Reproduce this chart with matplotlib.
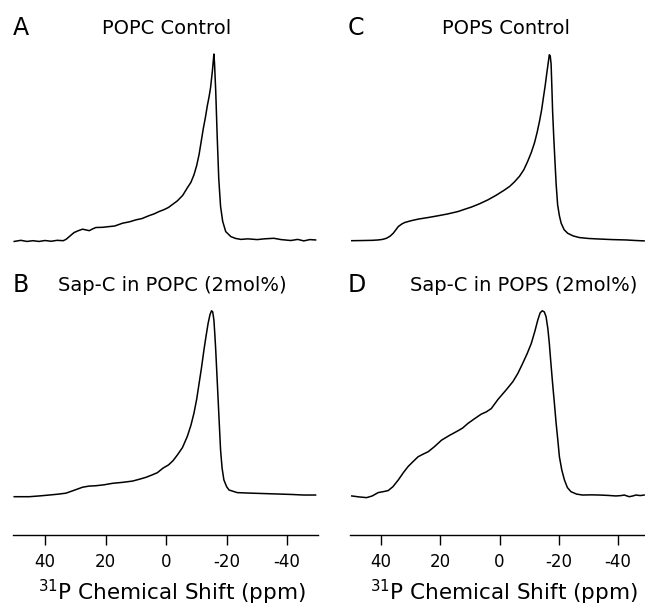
import matplotlib as mpl
mpl.use('Agg')
import matplotlib.pyplot as plt

mpl.rcParams.update({
    "font.family": "DejaVu Sans",
    "mathtext.fontset": "dejavusans",
    "axes.unicode_minus": False,        # plain hyphen on the tick labels
})

# 31P spectra: shift in ppm, intensity scaled to the peak
ppm_A = [50.2, 48.0, 46.0, 44.0, 42.0, 40.0, 38.0, 36.0, 34.0, 33.0, 31.5, 30.4, 29.0,
         27.6, 26.5, 25.4, 24.2, 23.2, 21.0, 18.8, 17.0, 14.4, 12.0, 10.0, 8.0, 5.6,
         4.0, 2.3, 0.7, -0.8, -2.2, -3.7, -5.5, -7.0, -8.2, -9.2, -10.1, -10.9, -11.6,
         -12.3, -13.0, -13.6, -14.2, -14.7, -15.3, -15.8, -16.0, -16.4, -16.9, -17.4,
         -18.0, -18.7, -19.7, -21.4, -23.0, -24.7, -27.0, -30.1, -32.5, -35.6, -38.0,
         -41.2, -43.5, -45.5, -47.5, -49.4]
int_A = [-0.008, -0.002, -0.008, -0.004, -0.008, -0.003, -0.007, -0.002, -0.004, 0.004,
         0.025, 0.040, 0.050, 0.058, 0.054, 0.050, 0.060, 0.067, 0.068, 0.072, 0.075,
         0.090, 0.098, 0.108, 0.115, 0.131, 0.140, 0.153, 0.163, 0.175, 0.192, 0.210,
         0.240, 0.280, 0.310, 0.350, 0.400, 0.460, 0.530, 0.600, 0.660, 0.720, 0.770,
         0.820, 0.910, 1.000, 0.950, 0.800, 0.550, 0.330, 0.180, 0.100, 0.045, 0.018,
         0.008, 0.003, 0.006, 0.002, 0.006, 0.009, 0.002, -0.003, 0.003, -0.005, 0.002,
         0.000]

ppm_B = [50.2, 47.0, 45.2, 42.0, 38.6, 35.5, 33.1, 30.5, 27.6, 25.5, 23.2, 20.5, 17.7,
         14.5, 11.1, 8.8, 6.7, 4.8, 2.9, 1.0, -0.8, -2.3, -3.7, -5.4, -7.0, -8.2, -9.2,
         -10.1, -10.9, -11.7, -12.5, -13.2, -13.9, -14.5, -15.0, -15.4, -15.8, -16.1,
         -16.4, -16.8, -17.2, -17.6, -18.0, -18.5, -19.1, -20.0, -20.8, -23.5, -26.5,
         -30.1, -34.0, -37.9, -41.5, -45.5, -49.4]
int_B = [-0.004, -0.004, -0.004, 0.000, 0.005, 0.010, 0.015, 0.030, 0.047, 0.053, 0.055,
         0.060, 0.068, 0.073, 0.080, 0.090, 0.100, 0.112, 0.125, 0.150, 0.167, 0.190,
         0.220, 0.260, 0.320, 0.380, 0.445, 0.520, 0.605, 0.690, 0.785, 0.860, 0.930,
         0.975, 0.996, 0.990, 0.946, 0.870, 0.785, 0.650, 0.516, 0.380, 0.247, 0.150,
         0.086, 0.050, 0.032, 0.018, 0.016, 0.014, 0.012, 0.010, 0.008, 0.005, 0.005]

ppm_C = [49.9, 46.0, 43.0, 41.0, 39.5, 38.2, 37.0, 35.9, 35.0, 34.2, 33.0, 32.0, 30.0,
         27.5, 24.0, 20.8, 17.5, 14.0, 11.8, 9.5, 6.7, 3.9, 1.2, 0.0, -1.5, -3.4, -5.0,
         -6.7, -8.2, -9.5, -10.7, -11.8, -12.7, -13.5, -14.2, -14.8, -15.4, -15.9,
         -16.4, -16.8, -17.1, -17.4, -17.7, -17.9, -18.3, -18.7, -19.1, -19.6, -20.2,
         -20.8, -21.8, -23.0, -24.8, -26.9, -30.0, -33.7, -38.0, -42.7, -46.0, -48.8]
int_C = [-0.004, -0.003, -0.002, 0.000, 0.003, 0.009, 0.020, 0.036, 0.055, 0.072, 0.086,
         0.094, 0.103, 0.112, 0.121, 0.130, 0.140, 0.153, 0.165, 0.177, 0.195, 0.216,
         0.240, 0.252, 0.267, 0.288, 0.312, 0.342, 0.378, 0.423, 0.470, 0.523, 0.580,
         0.640, 0.700, 0.766, 0.830, 0.892, 0.950, 0.996, 0.990, 0.946, 0.800, 0.694,
         0.550, 0.423, 0.300, 0.189, 0.130, 0.090, 0.055, 0.036, 0.022, 0.013, 0.008,
         0.005, 0.002, 0.000, -0.003, -0.005]

ppm_D = [49.9, 47.5, 44.9, 43.0, 41.0, 39.0, 37.6, 36.0, 34.2, 32.5, 30.9, 29.2, 27.5,
         25.8, 24.1, 22.0, 19.6, 17.0, 14.0, 12.5, 10.7, 8.5, 6.2, 4.5, 2.8, 0.5, -2.2,
         -4.5, -6.2, -7.8, -9.3, -10.7, -11.9, -12.9, -13.7, -14.4, -15.1, -15.7, -16.3,
         -16.8, -17.3, -17.9, -18.5, -19.1, -19.7, -20.2, -21.0, -21.9, -22.9, -24.1,
         -26.0, -28.0, -31.0, -33.7, -36.5, -39.3, -41.0, -42.1, -43.0, -43.8, -45.0,
         -46.0, -47.5, -48.8]
int_D = [0.000, -0.005, -0.009, 0.000, 0.018, 0.024, 0.029, 0.050, 0.086, 0.125, 0.158,
         0.185, 0.211, 0.225, 0.238, 0.265, 0.300, 0.325, 0.351, 0.365, 0.390, 0.415,
         0.440, 0.452, 0.470, 0.520, 0.570, 0.615, 0.660, 0.713, 0.765, 0.820, 0.885,
         0.946, 0.985, 0.996, 0.990, 0.964, 0.900, 0.820, 0.720, 0.606, 0.500, 0.390,
         0.295, 0.211, 0.140, 0.086, 0.045, 0.023, 0.010, 0.005, 0.006, 0.005, 0.003,
         0.000, 0.002, 0.005, 0.000, -0.004, 0.000, 0.005, 0.002, 0.005]

letters = ['A', 'B', 'C', 'D']
titles = ['POPC Control', 'Sap-C in POPC (2mol%)', 'POPS Control', 'Sap-C in POPS (2mol%)']
tick_ppm = [40, 20, 0, -20, -40]
tick_labels = ['40', '20', '0', '-20', '-40']
xlabel = r'$^{31}$P Chemical Shift (ppm)'

W, H = 645.0, 610.0
fig = plt.figure(figsize=(W / 100, H / 100), dpi=100)


def add_px_axes(x0, x1, ytop, ybot):
    # axes placed in pixel coordinates (y measured from the top)
    return fig.add_axes([x0 / W, (H - ybot) / H, (x1 - x0) / W, (ybot - ytop) / H])


def put_text(x, y, s, size):
    fig.text(x / W, (H - y) / H, s, fontsize=size, ha='left', va='baseline')


panels = [
    # data, x range px, y range px, xlim, bottom row, letter x, title x, text baseline
    (ppm_A, int_A, (13, 318), (44, 279), (50.6, -50.2), False, 13, 102, 35),
    (ppm_B, int_B, (13, 318), (300, 535), (50.6, -50.2), True, 13, 58, 292),
    (ppm_C, int_C, (350, 645), (44, 279), (50.5, -49.1), False, 348, 442, 35),
    (ppm_D, int_D, (350, 645), (300, 535), (50.5, -49.1), True, 348, 410, 292),
]

for i, (ppm, inten, xr, yr, xl, bottom, lx, tx, ty) in enumerate(panels):
    ax = add_px_axes(xr[0], xr[1], yr[0], yr[1])
    ax.plot(ppm, inten, color='black', lw=1.1)
    ax.set_xlim(xl)
    ax.set_ylim(-0.21, 1.054)
    ax.set_yticks([])
    for side in ['left', 'right', 'top']:
        ax.spines[side].set_visible(False)
    if bottom:
        ax.spines['bottom'].set_linewidth(1.0)
        ax.set_xticks(tick_ppm)
        ax.set_xticklabels(tick_labels)
        ax.tick_params(axis='x', direction='out', length=7, width=1.0,
                       labelsize=12, pad=6)
    else:
        ax.spines['bottom'].set_visible(False)
        ax.set_xticks([])
    put_text(lx, ty, letters[i], 17)
    put_text(tx, ty - 1, titles[i], 14)

# axis titles under the bottom panels
fig.text(172 / W, (H - 600) / H, xlabel, fontsize=15.5, ha='center', va='baseline')
fig.text(504 / W, (H - 600) / H, xlabel, fontsize=15.5, ha='center', va='baseline')

fig.savefig('out.png', dpi=100)
